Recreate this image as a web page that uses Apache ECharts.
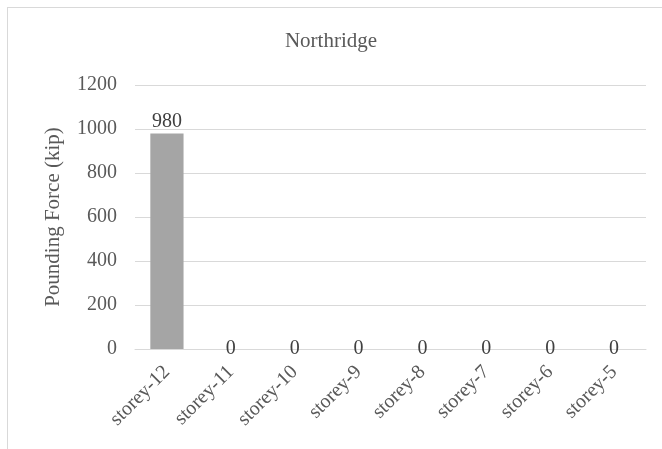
<!DOCTYPE html>
<html>
<head>
<meta charset="utf-8">
<script src="https://cdn.jsdelivr.net/npm/echarts@6/dist/echarts.min.js"></script>
<style>
  html, body { margin: 0; padding: 0; background: #fff; }
  #frame { position: absolute; left: 7px; top: 7px; width: 680px; height: 470px; border: 1px solid #d9d9d9; box-sizing: border-box; }
  #chart { position: absolute; left: 0; top: 0; width: 662px; height: 449px; }
</style>
</head>
<body>
<div id="frame"></div>
<div id="chart"></div>
<script>
// Pounding force per storey, Northridge record
const categories = ['storey-12', 'storey-11', 'storey-10', 'storey-9', 'storey-8', 'storey-7', 'storey-6', 'storey-5'];
const poundingForce = [980, 0, 0, 0, 0, 0, 0, 0];
const yTicks = [0, 200, 400, 600, 800, 1000, 1200];

const font = '"Liberation Serif", "Times New Roman", serif';
const textColor = '#595959';

// zero-height bars carry their label centred on the axis line
const barData = poundingForce.map(v => v === 0
  ? { value: v, label: { position: 'inside' } }
  : v);

const chart = echarts.init(document.getElementById('chart'), null, { renderer: 'canvas' });
chart.setOption({
  animation: false,
  backgroundColor: 'transparent',
  title: {
    text: 'Northridge',
    left: 'center',
    top: 26,
    textStyle: { fontFamily: font, fontSize: 21, fontWeight: 'normal', color: textColor }
  },
  grid: { left: 135, right: 16, top: 85, bottom: 100, containLabel: false },
  xAxis: {
    type: 'category',
    data: categories,
    axisLine: { show: true, lineStyle: { color: '#d9d9d9', width: 1 } },
    axisTick: { show: false },
    axisLabel: {
      rotate: 45,
      interval: 0,
      margin: 20,
      fontFamily: font,
      fontSize: 20,
      color: textColor
    }
  },
  yAxis: {
    type: 'value',
    min: yTicks[0],
    max: yTicks[yTicks.length - 1],
    interval: yTicks[1] - yTicks[0],
    name: 'Pounding Force (kip)',
    nameLocation: 'middle',
    nameGap: 71,
    nameRotate: 90,
    nameTextStyle: { fontFamily: font, fontSize: 21, color: textColor },
    axisLine: { show: false },
    axisTick: { show: false },
    splitLine: { lineStyle: { color: '#d9d9d9', width: 1 } },
    axisLabel: {
      margin: 18,
      fontFamily: font,
      fontSize: 20,
      color: textColor,
      formatter: v => String(v)
    }
  },
  series: [{
    type: 'bar',
    data: barData,
    barWidth: '52%',
    itemStyle: { color: '#a5a5a5' },
    label: {
      show: true,
      position: 'top',
      distance: 2,
      fontFamily: font,
      fontSize: 20,
      color: '#404040'
    }
  }]
});
</script>
</body>
</html>
